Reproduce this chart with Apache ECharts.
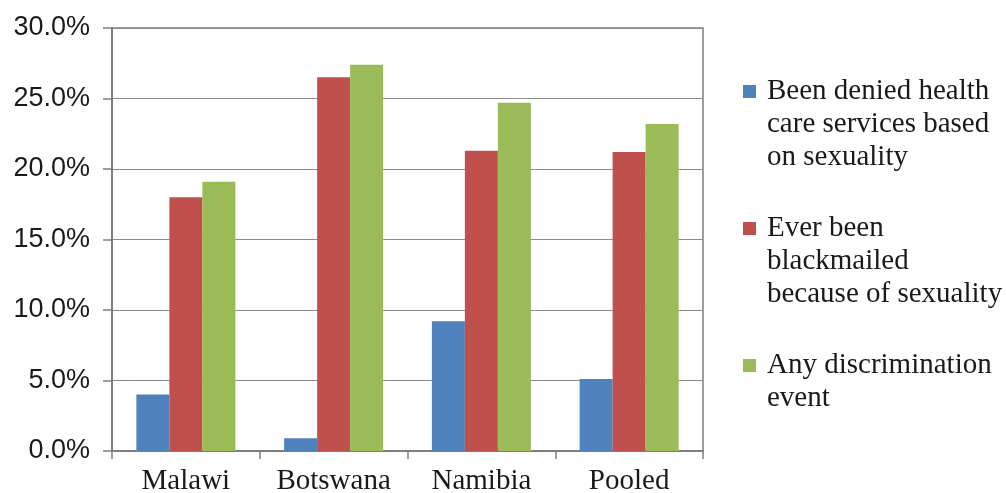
<!DOCTYPE html>
<html>
<head>
<meta charset="utf-8">
<title>Discrimination by country</title>
<script src="https://cdn.jsdelivr.net/npm/echarts@6/dist/echarts.min.js"></script>
<style>
  html, body { margin: 0; padding: 0; background: #fff; }
  #chart { width: 1006px; height: 493px; }
</style>
</head>
<body>
<div id="chart"></div>
<script>
// data (percent)
const categories = ['Malawi', 'Botswana', 'Namibia', 'Pooled']
const deniedCare = [4.0, 0.9, 9.2, 5.1]
const blackmailed = [18.0, 26.5, 21.3, 21.2]
const anyDiscrimination = [19.1, 27.4, 24.7, 23.2]

const seriesNames = [
  'Been denied health care services based on sexuality',
  'Ever been blackmailed because of sexuality',
  'Any discrimination event'
]
// how each legend entry wraps
const legendLines = [
  ['Been denied health', 'care services based', 'on sexuality'],
  ['Ever been', 'blackmailed', 'because of sexuality'],
  ['Any discrimination', 'event']
]

const yMin = 0
const yMax = 30
const yStep = 5

const colors = ['#4F81BD', '#C0504D', '#9BBB59']

// pad every legend entry to 5 lines with the first real line in the middle,
// so the square lines up with the first line
function legendText(name) {
  const lines = legendLines[seriesNames.indexOf(name)]
  const out = ['', ''].concat(lines)
  while (out.length < 5) out.push('')
  return out.join('\n')
}

const chart = echarts.init(document.getElementById('chart'))

chart.setOption({
  animation: false,
  color: colors,
  grid: {
    left: 112,
    right: 303,
    top: 28,
    bottom: 42,
    outerBoundsMode: 'none',
    show: true,
    borderColor: '#7f7f7f',
    borderWidth: 1.5
  },
  legend: {
    orient: 'vertical',
    left: 738,
    top: 4,
    itemWidth: 13,
    itemHeight: 13,
    itemGap: -28,
    icon: 'rect',
    selectedMode: false,
    formatter: legendText,
    textStyle: {
      fontFamily: 'Liberation Serif',
      fontSize: 29,
      lineHeight: 33,
      padding: [0, 0, 0, 6],
      color: '#1a1a1a'
    }
  },
  xAxis: {
    type: 'category',
    data: categories,
    axisLine: { lineStyle: { color: '#7f7f7f', width: 2 } },
    axisTick: { show: true, length: 8, lineStyle: { color: '#7f7f7f', width: 1.5 } },
    axisLabel: {
      interval: 0,
      margin: 16,
      fontFamily: 'Liberation Serif',
      fontSize: 29,
      color: '#1a1a1a'
    }
  },
  yAxis: {
    type: 'value',
    min: yMin,
    max: yMax,
    interval: yStep,
    axisLine: { show: true, lineStyle: { color: '#7f7f7f', width: 2 } },
    axisTick: { show: true, length: 9, lineStyle: { color: '#7f7f7f', width: 1.5 } },
    splitLine: { lineStyle: { color: '#8c8c8c', width: 1.2 } },
    axisLabel: {
      margin: 22,
      fontFamily: 'Liberation Sans',
      fontSize: 27,
      color: '#1a1a1a',
      formatter: v => v.toFixed(1) + '%'
    }
  },
  series: [{
    name: seriesNames[0],
    type: 'bar',
    barGap: 0,
    barCategoryGap: '33%',
    data: deniedCare
  }, {
    name: seriesNames[1],
    type: 'bar',
    barGap: 0,
    barCategoryGap: '33%',
    data: blackmailed
  }, {
    name: seriesNames[2],
    type: 'bar',
    barGap: 0,
    barCategoryGap: '33%',
    data: anyDiscrimination
  }]
})
</script>
</body>
</html>
